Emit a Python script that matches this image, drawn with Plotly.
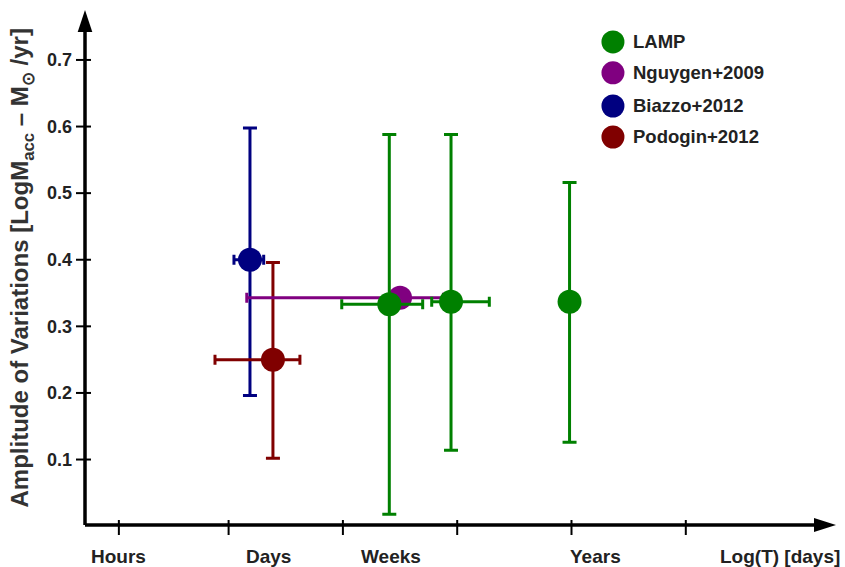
import plotly.graph_objects as go

# ---- data -------------------------------------------------------------
# x is in "period" units of the log(T) axis (one unit per tick), y is the
# amplitude of accretion-rate variations.
series_names = ["Biazzo+2012", "Podogin+2012", "Nguygen+2009", "LAMP"]
series_colors = ["#000080", "#800000", "#800080", "#008000"]

biazzo_x = [2.187]
biazzo_y = [0.40]
biazzo_x_minus = [0.14]
biazzo_x_plus = [0.12]
biazzo_y_minus = [0.204]
biazzo_y_plus = [0.198]

podogin_x = [2.388]
podogin_y = [0.25]
podogin_x_minus = [0.507]
podogin_x_plus = [0.236]
podogin_y_minus = [0.148]
podogin_y_plus = [0.146]

nguygen_x = [3.50]
nguygen_y = [0.343]
nguygen_x_minus = [1.341]
nguygen_x_plus = [0.38]

lamp_x = [3.406, 3.946, 4.983]
lamp_y = [0.333, 0.337, 0.337]
lamp_x_minus = [0.416, 0.169, 0.0]
lamp_x_plus = [0.292, 0.335, 0.0]
lamp_y_minus = [0.315, 0.223, 0.211]
lamp_y_plus = [0.255, 0.251, 0.179]

y_ticks = [0.1, 0.2, 0.3, 0.4, 0.5, 0.6, 0.7]
x_ticks = [1.04, 2, 3, 4, 5, 6]
x_labels = ["Hours", "Days", "Weeks", "Years", "Log(T) [days]"]
x_label_pos = [1.041, 2.345, 3.418, 5.206, 6.824]
legend_order = ["LAMP", "Nguygen+2009", "Biazzo+2012", "Podogin+2012"]

X_RANGE = [0.7437, 7.3141]
Y_RANGE = [0.0017, 0.7750]

TEXT = "#222222"
FONT = "Liberation Sans"

fig = go.Figure()


def add_series(name, color, x, y, xm, xp, ym=None, yp=None):
    kw = dict(
        error_x=dict(type="data", symmetric=False, array=xp, arrayminus=xm,
                     color=color, thickness=3, width=5),
    )
    if ym is not None:
        kw["error_y"] = dict(type="data", symmetric=False, array=yp,
                             arrayminus=ym, color=color, thickness=3, width=7)
    fig.add_trace(go.Scatter(
        x=x, y=y, mode="markers", name=name,
        marker=dict(size=24, color=color, line=dict(width=0)),
        showlegend=False, cliponaxis=False, **kw))


add_series(series_names[0], series_colors[0], biazzo_x, biazzo_y,
           biazzo_x_minus, biazzo_x_plus, biazzo_y_minus, biazzo_y_plus)
add_series(series_names[1], series_colors[1], podogin_x, podogin_y,
           podogin_x_minus, podogin_x_plus, podogin_y_minus, podogin_y_plus)
add_series(series_names[2], series_colors[2], nguygen_x, nguygen_y,
           nguygen_x_minus, nguygen_x_plus)
add_series(series_names[3], series_colors[3], lamp_x, lamp_y,
           lamp_x_minus, lamp_x_plus, lamp_y_minus, lamp_y_plus)

shapes = []
# axis lines with arrow heads
shapes.append(dict(type="line", xref="paper", yref="paper", x0=0, x1=0.975,
                   y0=0, y1=0, line=dict(color="black", width=3.5)))
shapes.append(dict(type="line", xref="paper", yref="paper", x0=0, x1=0,
                   y0=0, y1=0.96, line=dict(color="black", width=3.5)))
shapes.append(dict(type="path", xref="paper", yref="paper",
                   xsizemode="pixel", ysizemode="pixel", xanchor=1, yanchor=0,
                   path="M 0,0 L -22,7 L -22,-7 Z", fillcolor="black",
                   line=dict(width=0)))
shapes.append(dict(type="path", xref="paper", yref="paper",
                   xsizemode="pixel", ysizemode="pixel", xanchor=0, yanchor=1,
                   path="M 0,0 L -7.3,-22 L 7.3,-22 Z", fillcolor="black",
                   line=dict(width=0)))
# tick marks crossing the axes
for v in y_ticks:
    shapes.append(dict(type="line", xref="paper", yref="y", xsizemode="pixel",
                       xanchor=0, x0=-9, x1=6, y0=v, y1=v,
                       line=dict(color="black", width=2)))
for v in x_ticks:
    shapes.append(dict(type="line", xref="x", yref="paper", ysizemode="pixel",
                       yanchor=0, y0=-10, y1=5, x0=v, x1=v,
                       line=dict(color="black", width=2)))

annotations = []
for lab, pos in zip(x_labels, x_label_pos):
    annotations.append(dict(x=pos, y=-0.0621, xref="x", yref="paper",
                            text=lab, showarrow=False, xanchor="center",
                            yanchor="middle",
                            font=dict(family=FONT, size=19, color=TEXT,
                                      weight="bold")))

annotations.append(dict(
    x=-0.0839, y=0.5, xref="paper", yref="paper", textangle=-90,
    text="Amplitude of Variations [LogM<sub>acc</sub> \u2013 M<sub>\u2299</sub> /yr]",
    showarrow=False, xanchor="center", yanchor="middle",
    font=dict(family=FONT, size=24, color="#333333", weight="bold")))

# legend: filled dots with labels
legend_y = [0.938, 0.878, 0.8136, 0.7534]
color_of = dict(zip(series_names, series_colors))
for name, ly in zip(legend_order, legend_y):
    shapes.append(dict(type="circle", xref="paper", yref="paper",
                       xsizemode="pixel", ysizemode="pixel",
                       xanchor=0.703, yanchor=ly, x0=-11.5, x1=11.5,
                       y0=-11.5, y1=11.5, fillcolor=color_of[name],
                       line=dict(width=0)))
    annotations.append(dict(x=0.727, y=ly, xref="paper", yref="paper",
                            text=name, showarrow=False, xanchor="left",
                            yanchor="middle",
                            font=dict(family=FONT, size=18.5, color=TEXT,
                                      weight="bold")))

fig.update_layout(
    width=845, height=567,
    margin=dict(l=85, r=9, t=10, b=42),
    paper_bgcolor="white", plot_bgcolor="white",
    shapes=shapes, annotations=annotations,
    xaxis=dict(range=X_RANGE, showgrid=False, zeroline=False, showline=False,
               showticklabels=False, ticks=""),
    yaxis=dict(range=Y_RANGE, showgrid=False, zeroline=False, showline=False,
               tickvals=y_ticks, ticktext=[f"{v:.1f}" for v in y_ticks],
               ticks="", ticklabelstandoff=12,
               tickfont=dict(family=FONT, size=18, color=TEXT,
                             weight="bold")),
)

fig.write_html("out.html")
